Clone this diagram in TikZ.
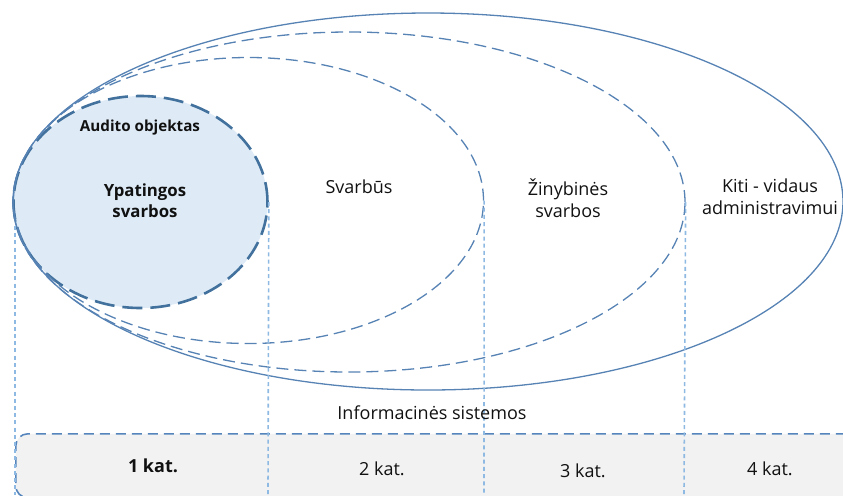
\documentclass[tikz,border=0pt]{standalone}
\usepackage{fontspec}
\setmainfont{Open Sans}
\usepackage{xcolor}
\definecolor{ringblue}{HTML}{5682B4}
\definecolor{coreblue}{HTML}{41719C}
\definecolor{corefill}{HTML}{DEEBF7}
\definecolor{guideblue}{HTML}{8DB9E2}
\definecolor{barline}{HTML}{5585BC}
\definecolor{barfill}{HTML}{F2F2F2}
\definecolor{ink}{HTML}{111111}
\usetikzlibrary{positioning,shapes.geometric}

\begin{document}
\begin{tikzpicture}[
  x=0.5pt, y=-0.5pt,
  font=\fontsize{9}{11}\selectfont, text=ink,
  ring/.style={ellipse, draw=ringblue, line width=0.65pt, inner sep=0pt},
  ringdash/.style={ring, dash pattern=on 6pt off 3pt},
  core/.style={ellipse, draw=coreblue, line width=1.3pt, fill=corefill,
               dash pattern=on 10pt off 4pt, inner sep=0pt,
               minimum width=127pt, minimum height=106pt},
  guide/.style={draw=guideblue, line width=0.8pt, dash pattern=on 2pt off 1.6pt},
  lbl/.style={align=center, inner sep=1pt},
  cat/.style={inner sep=1pt}
]
  \useasboundingbox (0,0) rectangle (843,495);
  \clip (0,0) rectangle (843,495);

  % bottom bar
  \node[draw=barline, line width=0.8pt, dash pattern=on 5pt off 3pt, fill=barfill,
        rounded corners=6pt, minimum width=445pt, minimum height=32pt,
        anchor=north west, inner sep=0pt] (bar) at (15,433) {};

  % rings
  \node[core] (l1) at (140.5,202) {};
  \node[ringdash, minimum width=235pt, minimum height=143pt] (l2) at (248.5,200.5) {};
  \node[ringdash, minimum width=336pt, minimum height=170pt] (l3) at (349,202) {};
  \node[ring, minimum width=415pt, minimum height=188.5pt] (l4) at (428,201.5) {};

  % guides
  \coordinate (g0) at (15,495);
  \coordinate (g1) at (268,495);
  \coordinate (g2) at (484,495);
  \coordinate (g3) at (684,495);
  \draw[guide] (15,226) -- (g0);
  \draw[guide] (l1.east) -- (g1);
  \draw[guide] (l2.east) -- (g2);
  \draw[guide] (l3.east) -- (g3);

  \node[lbl, font=\fontsize{7.6}{9}\selectfont\bfseries] (audit) at (140,128) {Audito objektas};
  \node[lbl, font=\fontsize{8.4}{10.5}\selectfont\bfseries] (t1) at (145,201) {Ypatingos\\svarbos};
  \node[lbl] (t2) at (359,187) {Svarbūs};
  \node[lbl] (t3) at (568,198) {Žinybinės\\svarbos};
  \node[lbl] (t4) at (770,197) {Kiti - vidaus\\administravimui};
  \node[lbl] (is) at (432,413) {Informacinės sistemos};

  \node[cat, font=\fontsize{9}{11}\selectfont\bfseries] (k1) at (153,466) {1 kat.};
  \node[cat] (k2) at (382,469) {2 kat.};
  \node[cat] (k3) at (583,471) {3 kat.};
  \node[cat] (k4) at (770,469) {4 kat.};
\end{tikzpicture}
\end{document}
